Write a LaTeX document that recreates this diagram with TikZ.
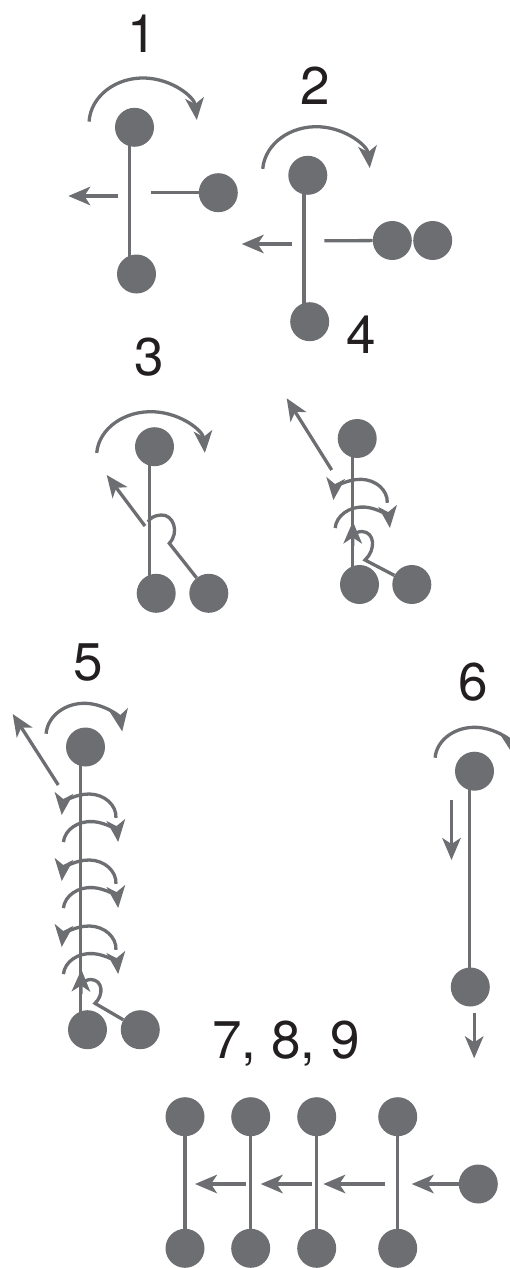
\documentclass[tikz,border=0pt]{standalone}
\usepackage{fontspec}
\setmainfont{TeX Gyre Heros}
\usetikzlibrary{arrows.meta}
\definecolor{ink}{HTML}{6D6E71}
\definecolor{lbl}{HTML}{231F20}
\begin{document}
\begin{tikzpicture}[x=1pt,y=-1pt,
  atom/.style={circle,fill=ink,minimum size=39pt,inner sep=0pt},
  bond/.style={draw=ink,line width=3.3pt},
  push/.style={draw=ink,line width=3.3pt,-{Stealth[length=22pt,width=18.5pt,inset=6pt]}},
  num/.style={anchor=base,inner sep=0pt,text=lbl,font=\fontsize{53}{60}\selectfont}]
\useasboundingbox (0,0) rectangle (509,1268);

% ---------- 1 ----------
\node[num] (n1) at (142,53) {1};
\node[atom] (t1) at (134.5,127.3) {};
\node[atom] (b1) at (136.5,274) {};
\node[atom] (s1) at (218.3,192.7) {};
\draw[bond] ([xshift=-5.2pt]t1.center) -- ([xshift=-7.2pt]b1.center);
\coordinate (h1) at (150.7,192.7);
\draw[bond] (h1) -- (s1);
\coordinate (p1a) at (118.3,196);
\coordinate (p1b) at (68.3,196);
\draw[push] (p1a) -- (p1b);
\draw[push] (143,124) ++(183:54 and 46) arc[start angle=183,end angle=355,x radius=54,y radius=46];

% ---------- 2 ----------
\node[num] (n2) at (315.3,105) {2};
\node[atom] (t2) at (307.8,175.3) {};
\node[atom] (b2) at (309.7,321.7) {};
\node[atom] (s2a) at (392.3,240.5) {};
\node[atom] (s2b) at (432.7,240.5) {};
\draw[bond] ([xshift=-3.8pt]t2.center) -- ([xshift=-5.7pt]b2.center);
\coordinate (h2) at (324.3,240.8);
\draw[bond] (h2) -- (s2a);
\coordinate (p2a) at (291.7,244);
\coordinate (p2b) at (241.7,244);
\draw[push] (p2a) -- (p2b);
\draw[push] (316.3,172) ++(184:53.7 and 45.3) arc[start angle=184,end angle=355,x radius=53.7,y radius=45.3];

% ---------- 3 ----------
\node[num] (n3) at (149,375) {3};
\node[atom] (t3) at (154.5,446.7) {};
\node[atom] (b3) at (156.2,593.3) {};
\node[atom] (s3) at (208.8,593.3) {};
\draw[bond] ([xshift=-5pt]t3.center) -- ([xshift=-6.7pt]b3.center);
\coordinate (k3) at (169.3,543.3);
\draw[bond] (s3) -- (k3) .. controls (180,532) and (173,514) .. (161,515)
  .. controls (154,515.5) and (150,518) .. (148,522);
\coordinate (p3a) at (145,526);
\coordinate (p3b) at (106.7,475);
\draw[push] (p3a) -- (p3b);
\draw[push] (150.8,456) ++(184:54.2 and 44.3) arc[start angle=184,end angle=356,x radius=54.2,y radius=44.3];

% ---------- 4 ----------
\node[num] (n4) at (361.7,353.3) {4};
\node[atom] (t4) at (357.2,438.5) {};
\node[atom] (b4) at (359.5,584.5) {};
\node[atom] (s4) at (411.8,584.5) {};
\draw[bond] ([xshift=-4.7pt]t4.center) -- ([xshift=-7pt]b4.center);
\coordinate (k4) at (365,560);
\draw[bond] (s4) -- (k4) .. controls (376,550) and (375,532) .. (362,531.5)
  .. controls (358,531.5) and (355,533) .. (353,537);
\coordinate (u4a) at (352.7,546);
\coordinate (u4b) at (352.9,521.5);
\draw[push] (u4a) -- (u4b);
\coordinate (p4a) at (331.7,470);
\coordinate (p4b) at (286.7,398.3);
\draw[push] (p4a) -- (p4b);
\draw[push] (360.3,502) ++(2:27 and 22.7) arc[start angle=2,end angle=-175,x radius=27,y radius=22.7];
\draw[push] (362.5,530) ++(185:27.5 and 23) arc[start angle=185,end angle=355,x radius=27.5,y radius=23];

% ---------- 5 ----------
\node[num] (n5) at (88.3,680) {5};
\node[atom] (t5) at (85.5,747) {};
\node[atom] (b5) at (87.5,1029.7) {};
\node[atom] (s5) at (140.3,1029.7) {};
\draw[bond] ([xshift=-4.7pt]t5.center) -- ([xshift=-6.7pt]b5.center);
\coordinate (k5) at (95,1003.3);
\draw[bond] (s5) -- (k5) .. controls (104,995) and (103,980) .. (91,979.5)
  .. controls (87,979.5) and (84,981) .. (82,985);
\coordinate (u5a) at (80.9,994);
\coordinate (u5b) at (81.4,969.5);
\draw[push] (u5a) -- (u5b);
\coordinate (p5a) at (58.3,785);
\coordinate (p5b) at (12.7,714);
\draw[push] (p5a) -- (p5b);
\draw[push] (84.3,736) ++(184:38.3 and 32.7) arc[start angle=184,end angle=352,x radius=38.3,y radius=32.7];
\foreach \yy in {817,883,949}{
  \draw[push] (88.8,\yy) ++(2:27.2 and 23) arc[start angle=2,end angle=-175,x radius=27.2,y radius=23];
  \draw[push] (90.8,\yy+27) ++(185:27.5 and 22.5) arc[start angle=185,end angle=355,x radius=27.5,y radius=22.5];
}

% ---------- 6 ----------
\node[num] (n6) at (473.3,700) {6};
\node[atom] (t6) at (474.5,771.2) {};
\node[atom] (b6) at (470.3,987) {};
\draw[bond] ([xshift=-4.7pt]t6.center) -- ([xshift=-0.5pt]b6.center);
\coordinate (d6a) at (451.5,800);
\coordinate (d6b) at (451.5,860);
\draw[push] (d6a) -- (d6b);
\coordinate (e6b) at (474.2,1058.3);
\draw[push] (b6.south -| e6b) ++(0,6) -- (e6b);
\draw[push] (474.5,760) ++(184:39.5 and 32.7) arc[start angle=184,end angle=352,x radius=39.5,y radius=32.7];

% ---------- 7, 8, 9 ----------
\node[num] (n7) at (286,1058.3) {7, 8, 9};
\foreach \i/\xx in {1/185,2/250.7,3/316.7,4/397.7}{
  \node[atom] (u\i) at (\xx,1116.7) {};
  \node[atom] (l\i) at (\xx,1248.3) {};
  \draw[bond] (u\i) -- (l\i);
}
\node[atom] (s7) at (478.3,1184) {};
\coordinate (a1) at (411.7,1184);
\draw[push] (s7) -- (a1);
\coordinate (a2s) at (385,1184);
\coordinate (a2) at (323.3,1184);
\draw[push] (a2s) -- (a2);
\coordinate (a3s) at (311.7,1184);
\coordinate (a3) at (260.7,1184);
\draw[push] (a3s) -- (a3);
\coordinate (a4s) at (246,1184);
\coordinate (a4) at (195,1184);
\draw[push] (a4s) -- (a4);
\end{tikzpicture}
\end{document}
